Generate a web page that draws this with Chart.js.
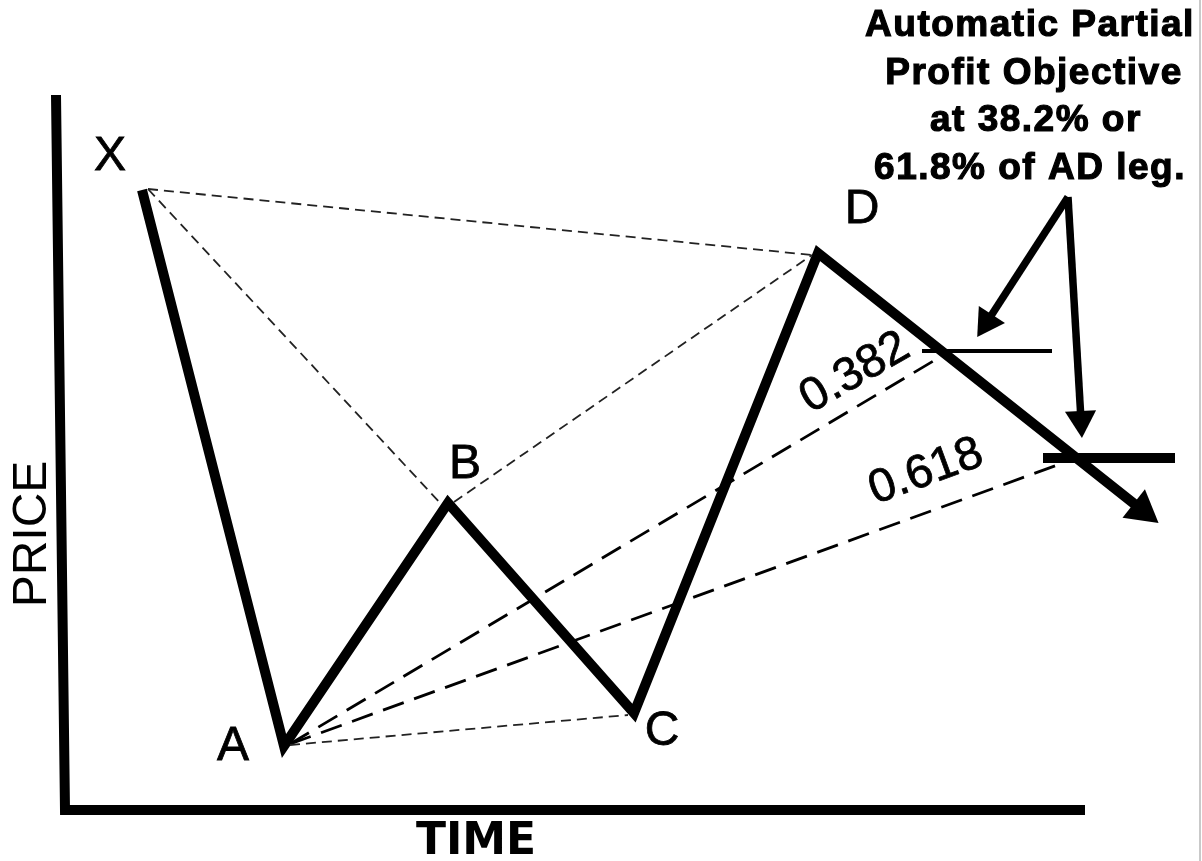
<!DOCTYPE html>
<html lang="en">
<head>
<meta charset="UTF-8">
<title>XABCD pattern</title>
<script src="https://cdn.jsdelivr.net/npm/chart.js@4"></script>
<style>
    body { margin: 0; background: #fff; }
    #myChart { display: block; }
    #bord { position: absolute; left: 1199px; top: 0; width: 2px; height: 861px; background: #c9c9c9; }
</style>
</head>
<body>
<canvas id="myChart" width="1202" height="861"></canvas>
<div id="bord"></div>
<script>
    // Pivots of the pattern (time, price)
    const pivotNames = ['X', 'A', 'B', 'C', 'D'];
    const pivotTime = [142, 284, 448, 634, 818];
    const pivotPrice = [671, 115, 358, 148, 608];

    // End of the D leg (arrow head)
    const legEndTime = 1142;
    const legEndPrice = 351;

    // Thin dashed links between pivots
    const linkFrom = ['X', 'X', 'B', 'A'];
    const linkTo = ['D', 'B', 'D', 'C'];

    // Fibonacci retracements of the AD leg
    const fibLabels = ['0.382', '0.618'];
    const fibTargetTime = [940, 1063];
    const fibTargetPrice = [504, 398];
    const fibLevelPrice = [510, 403];
    const fibLevelStart = [922, 1043];
    const fibLevelEnd = [1052, 1175];

    // Note arrows
    const noteLines = ['Automatic Partial', 'Profit Objective', ' at 38.2% or', '61.8% of AD leg.'];
    const noteFromTime = 1068;
    const noteFromPrice = 664;
    const noteToTime = [987, 1081];
    const noteToPrice = [539, 441];

    // Axes frame
    const axisTime = [56, 65, 1085];
    const axisPrice = [766, 51, 51];

    let pt = (x, y) => ({x: x, y: y});
    let idx = name => pivotNames.indexOf(name);

    let datasets = [];

    // Axes
    datasets.push({
        data: axisTime.map((t, i) => pt(t, axisPrice[i])),
        borderColor: '#000', borderWidth: 10, pointRadius: 0,
        borderJoinStyle: 'miter'
    });

    // Thin dashed links
    linkFrom.forEach((f, i) => {
        let a = idx(f), b = idx(linkTo[i]);
        datasets.push({
            data: [pt(pivotTime[a] + 6, pivotPrice[a] + 1), pt(pivotTime[b] - 6, pivotPrice[b] - 2)],
            borderColor: '#222', borderWidth: 1.8, borderDash: [10, 6], pointRadius: 0
        });
    });

    // Dashed lines from A to the retracements
    fibLabels.forEach((l, i) => {
        let a = idx('A');
        datasets.push({
            data: [pt(pivotTime[a] + 6, pivotPrice[a] + 2), pt(fibTargetTime[i], fibTargetPrice[i])],
            borderColor: '#000', borderWidth: 2.8, borderDash: [22, 11], pointRadius: 0
        });
    });

    // Retracement levels
    fibLabels.forEach((l, i) => {
        datasets.push({
            data: [pt(fibLevelStart[i], fibLevelPrice[i]), pt(fibLevelEnd[i], fibLevelPrice[i])],
            borderColor: '#000', borderWidth: i === 0 ? 4 : 10, pointRadius: 0
        });
    });

    // Pattern X-A-B-C-D and the projected leg
    let pattern = pivotTime.map((t, i) => pt(t, pivotPrice[i]));
    pattern.push(pt(legEndTime, legEndPrice));
    datasets.push({
        data: pattern,
        borderColor: '#000', borderWidth: 10, borderJoinStyle: 'miter',
        pointRadius: pattern.map((p, i) => i === pattern.length - 1 ? 21 : 0),
        pointStyle: 'triangle', pointRotation: 128,
        pointBackgroundColor: '#000', pointBorderWidth: 0
    });

    // Note arrows
    noteToTime.forEach((t, i) => {
        datasets.push({
            data: [pt(noteFromTime, noteFromPrice), pt(t, noteToPrice[i])],
            borderColor: '#000', borderWidth: 7.5,
            pointRadius: [0, 18], pointStyle: 'triangle',
            pointRotation: i === 0 ? 213 : 177,
            pointBackgroundColor: '#000', pointBorderWidth: 0
        });
    });

    // Texts drawn on top
    const textes = {
        id: 'textes',
        afterDatasetsDraw(chart) {
            let ctx = chart.ctx;
            let sx = chart.scales.x, sy = chart.scales.y;
            let px = v => sx.getPixelForValue(v);
            let py = v => sy.getPixelForValue(v);
            ctx.save();
            ctx.fillStyle = '#000';
            ctx.strokeStyle = '#000';
            ctx.textAlign = 'center';
            ctx.textBaseline = 'middle';

            // Pivot names
            let offsets = [[-32, 33], [-51, -1], [17, 38], [28, -19], [44, 43]];
            ctx.font = '48px "Liberation Sans", Arial, sans-serif';
            ctx.lineWidth = 0.8;
            pivotNames.forEach((n, i) => {
                let x = px(pivotTime[i] + offsets[i][0]), y = py(pivotPrice[i] + offsets[i][1]);
                ctx.fillText(n, x, y);
                ctx.strokeText(n, x, y);
            });

            // Fib labels, rotated along their lines
            let fibPos = [[855, 373, -30], [926, 472, -20]];
            ctx.font = '47px "Liberation Sans", Arial, sans-serif';
            fibLabels.forEach((l, i) => {
                ctx.save();
                ctx.translate(fibPos[i][0], fibPos[i][1]);
                ctx.rotate(fibPos[i][2] * Math.PI / 180);
                ctx.fillText(l, 0, 0);
                ctx.strokeText(l, 0, 0);
                ctx.restore();
            });

            // Axis titles
            ctx.save();
            ctx.translate(31, 534);
            ctx.rotate(-Math.PI / 2);
            ctx.font = '48px "Liberation Sans", Arial, sans-serif';
            ctx.fillText('PRICE', 0, 2);
            ctx.restore();
            ctx.font = 'bold 44px "DejaVu Sans", Verdana, sans-serif';
            ctx.fillText('TIME', 476, 843);

            // Note
            ctx.font = 'bold 37px "Liberation Sans", Arial, sans-serif';
            ctx.letterSpacing = '1.5px';
            ctx.lineWidth = 1.2;
            let noteX = [1030, 1034, 1030, 1030];
            noteLines.forEach((l, i) => {
                ctx.fillText(l, noteX[i], 26 + i * 47.5);
                ctx.strokeText(l, noteX[i], 26 + i * 47.5);
            });
            ctx.restore();
        }
    };

    let ctx = document.getElementById('myChart').getContext('2d');
    let chart = new Chart(ctx, {
        type: 'scatter',
        data: { datasets: datasets },
        options: {
            responsive: false,
            animation: false,
            showLine: true,
            layout: { padding: 0, autoPadding: false },
            scales: {
                x: { type: 'linear', min: 0, max: 1202, display: false },
                y: { type: 'linear', min: 0, max: 861, display: false }
            },
            elements: { line: { tension: 0, fill: false } },
            plugins: { legend: { display: false }, tooltip: { enabled: false } }
        },
        plugins: [textes]
    });
</script>
</body>
</html>
